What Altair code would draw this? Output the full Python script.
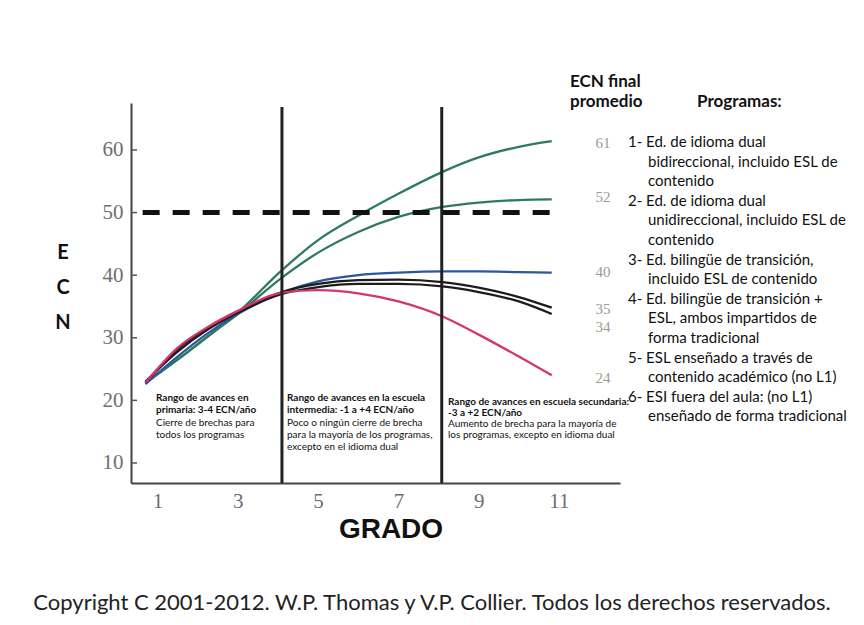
import altair as alt
import pandas as pd

# ---------------- data ----------------
grades = [0.7, 1.5, 2.25, 3.0, 4.1, 5.0, 6.0, 7.0, 8.1, 9.0, 10.0, 10.82]
prog1 = [22.8, 26.5, 30.2, 34.0, 40.8, 45.6, 49.5, 53.0, 56.5, 58.8, 60.5, 61.4]
prog2 = [22.8, 26.5, 30.2, 33.8, 39.6, 43.6, 46.9, 49.3, 50.9, 51.6, 52.0, 52.1]
prog3 = [22.6, 27.0, 30.7, 33.8, 37.2, 39.0, 40.0, 40.4, 40.6, 40.6, 40.5, 40.4]
prog4 = [22.8, 28.2, 31.6, 34.2, 37.3, 38.6, 39.2, 39.3, 38.9, 38.0, 36.5, 34.8]
prog5 = [23.0, 27.8, 31.3, 34.0, 37.0, 38.1, 38.6, 38.6, 38.2, 37.3, 35.8, 33.8]
prog6 = [22.8, 28.4, 31.7, 34.3, 37.2, 37.6, 37.1, 35.8, 33.4, 30.5, 27.0, 24.0]

series_names = ["1", "2", "3", "4", "5", "6"]
series_values = [prog1, prog2, prog3, prog4, prog5, prog6]
series_colors = ["#2e7b5c", "#2e7b5c", "#2d55a3", "#1c1c1c", "#1c1c1c", "#d6346a"]

final_labels = ["61", "52", "40", "35", "34", "24"]
x_ticks = [1, 3, 5, 7, 9, 11]
y_ticks = [10, 20, 30, 40, 50, 60]
boundaries = [4.1, 8.08]
benchmark = 50
benchmark_span = [0.63, 10.9]

block1 = [("Rango de avances en", "bold"), ("primaria: 3-4 ECN/año", "bold"),
          ("Cierre de brechas para", "normal"), ("todos los programas", "normal")]
block2 = [("Rango de avances en la escuela", "bold"), ("intermedia: -1 a +4 ECN/año", "bold"),
          ("Poco o ningún cierre de brecha", "normal"),
          ("para la mayoría de los programas,", "normal"),
          ("excepto en el idioma dual", "normal")]
block3 = [("Rango de avances en escuela secundaria:", "bold"), ("-3 a +2 ECN/año", "bold"),
          ("Aumento de brecha para la mayoría de", "normal"),
          ("los programas, excepto en idioma dual", "normal")]

program_lines = [
    ("1- Ed. de idioma dual", 0), ("bidireccional, incluido ESL de", 1), ("contenido", 1),
    ("2- Ed. de idioma dual", 0), ("unidireccional, incluido ESL de", 1), ("contenido", 1),
    ("3- Ed. bilingüe de transición,", 0), ("incluido ESL de contenido", 1),
    ("4- Ed. bilingüe de transición +", 0), ("ESL, ambos impartidos de", 1), ("forma tradicional", 1),
    ("5- ESL enseñado a través de", 0), ("contenido académico (no L1)", 1),
    ("6- ESI fuera del aula: (no L1)", 0), ("enseñado de forma tradicional", 1),
]

# ---------------- layout ----------------
W, H = 489, 380
x_scale = alt.Scale(domain=[0.34, 12.52], nice=False, zero=False)
y_scale = alt.Scale(domain=[6.8, 67.5], nice=False, zero=False)
x_axis = alt.Axis(values=x_ticks, title=None, tickSize=0, labelPadding=7,
                  labelFont="Liberation Serif", labelFontSize=21, labelColor="#6e6e6e",
                  domainColor="#444", domainWidth=2, grid=False)
y_axis = alt.Axis(values=y_ticks, title=None, tickSize=0, labelPadding=8,
                  labelFont="Liberation Serif", labelFontSize=21, labelColor="#6e6e6e",
                  domainColor="#444", domainWidth=2, grid=False)

rows = []
for name, vals in zip(series_names, series_values):
    for g, v in zip(grades, vals):
        rows.append({"programa": name, "grado": g, "ecn": v})
df = pd.DataFrame(rows)

lines = alt.Chart(df).mark_line(strokeWidth=2.3, interpolate="monotone").encode(
    x=alt.X("grado:Q", scale=x_scale, axis=x_axis),
    y=alt.Y("ecn:Q", scale=y_scale, axis=y_axis),
    color=alt.Color("programa:N", scale=alt.Scale(domain=series_names, range=series_colors),
                    legend=None),
)

ticks = alt.Chart(pd.DataFrame({"ecn": y_ticks})).mark_rule(color="#555", strokeWidth=1.5).encode(
    x=alt.value(0), x2=alt.value(6), y=alt.Y("ecn:Q", scale=y_scale, axis=y_axis))

vlines = alt.Chart(pd.DataFrame({"grado": boundaries})).mark_rule(color="#222", strokeWidth=3).encode(
    x=alt.X("grado:Q", scale=x_scale, axis=x_axis), y=alt.value(4), y2=alt.value(H))

dash = alt.Chart(pd.DataFrame({"ecn": [benchmark], "grado": [benchmark_span[0]],
                               "grado2": [benchmark_span[1]]})
                 ).mark_rule(color="#111", strokeWidth=5, strokeDash=[17, 13]).encode(
    y=alt.Y("ecn:Q", scale=y_scale, axis=y_axis),
    x=alt.X("grado:Q", scale=x_scale, axis=x_axis), x2="grado2:Q")


def txt(s, x, y, size, weight="normal", font="Lato", color="#111", align="left"):
    return alt.Chart(pd.DataFrame({"t": [s]})).mark_text(
        font=font, fontSize=size, fontWeight=weight, color=color, align=align,
        baseline="middle").encode(x=alt.value(x), y=alt.value(y), text="t:N")


layers = [lines, dash, vlines, ticks]

# block annotations
for bx, by, block, dy in [(25, 295, block1, 12.3), (156, 295, block2, 12.3), (317, 298.5, block3, 11.3)]:
    for i, (s, w) in enumerate(block):
        layers.append(txt(s, bx, by + i * dy, 10, weight=w))

# axis titles
for i, ch in enumerate(["E", "C", "N"]):
    layers.append(txt(ch, -68, 150 + i * 35, 20, weight="bold", align="center"))
layers.append(txt("GRADO", 260, 427, 28, weight="bold", font="Liberation Sans", align="center"))

# right panel
layers.append(txt("ECN final", 439, -21, 17, weight="bold"))
layers.append(txt("promedio", 439, -1, 17, weight="bold"))
layers.append(txt("Programas:", 566, -1, 17, weight="bold"))
final_y = [40, 94, 169, 206, 224, 275]
for lab, fy in zip(final_labels, final_y):
    layers.append(txt(lab, 472, fy, 15, font="Liberation Serif", color="#9a9a9a", align="center"))
for i, (s, ind) in enumerate(program_lines):
    layers.append(txt(s, 497 + ind * 20, 39 + i * 19.6, 15))

layers.append(txt("Copyright C 2001-2012. W.P. Thomas y V.P. Collier. Todos los derechos reservados.",
                  301, 500, 22, align="center", color="#222"))

chart = alt.layer(*layers).properties(
    width=W, height=H,
    autosize=alt.AutoSizeParams(type="none"),
    padding={"left": 123, "top": 95, "right": 236, "bottom": 134},
    background="white",
).configure_view(stroke=None)

chart.save("out.html", embed_options={"renderer": "svg", "actions": False})
